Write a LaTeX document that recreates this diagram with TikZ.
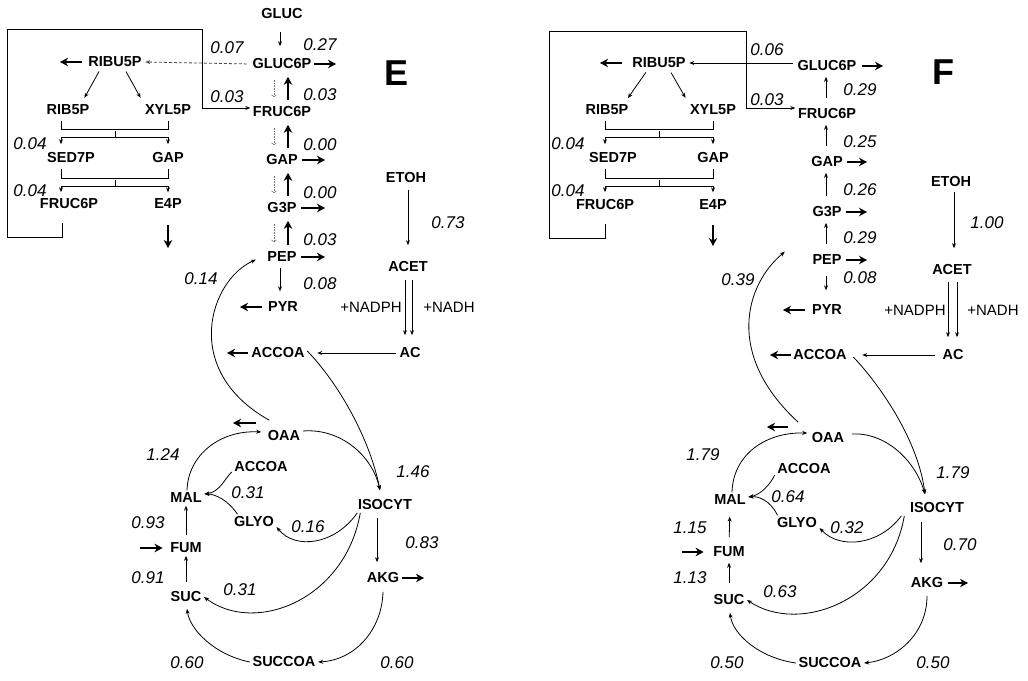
\documentclass[tikz,border=0pt]{standalone}
\usepackage{fontspec}
\setmainfont{Liberation Sans}
\newfontfamily\labfont{Liberation Sans}
\usetikzlibrary{arrows.meta}
\tikzset{
 lab/.style={font=\labfont\bfseries\fontsize{14.5}{16}\selectfont, inner sep=2.5pt},
 num/.style={font=\itshape\fontsize{17}{19}\selectfont, inner sep=0pt},
 cof/.style={font=\fontsize{15}{17}\selectfont, inner sep=0pt},
 panel/.style={font=\bfseries\fontsize{36}{40}\selectfont, inner sep=0pt},
 thinar/.style={line width=0.8pt, -{Stealth[length=5pt,width=4pt]}},
 bigar/.style={line width=2.4pt, -{Stealth[length=8pt,width=8.5pt,inset=2.5pt]}},
 boxline/.style={line width=1pt},
 boxar/.style={line width=1pt, -{Stealth[length=5pt,width=4pt]}},
 dotar/.style={line width=0.6pt, densely dotted, black!50, -{Straight Barb[length=2pt,width=5pt]}},
 dashar/.style={line width=0.8pt, densely dashed, black!70, -{Stealth[length=5pt,width=4pt]}},
 Eup/.style={bigar, shorten <=4pt, shorten >=5pt},
 Edn/.style={dotar, shorten <=8pt, shorten >=7pt},
 Fup/.style={thinar, shorten <=8pt, shorten >=3pt},
}
\begin{document}
\begin{tikzpicture}[x=1pt,y=-1pt]
\useasboundingbox (0,0) rectangle (1028,680);
\fill[white] (0,0) rectangle (1028,680);

% ================= Panel E =================
\node[panel] (Elab) at (397,73) {E};
\node[lab] (gluc) at (282,14) {GLUC};
\node[lab] (gluc6p) at (282,64) {GLUC6P};
\node[lab] (fruc6p) at (282,112) {FRUC6P};
\node[lab] (gap) at (282,160) {GAP};
\node[lab] (g3p) at (282,208) {G3P};
\node[lab] (pep) at (282,257) {PEP};
\node[lab] (pyr) at (283,307) {PYR};
\node[lab] (etoh) at (406,178) {ETOH};
\node[lab] (acet) at (408,267) {ACET};
\node[lab] (ac) at (410,353) {AC};
\node[lab] (accoa) at (278,353) {ACCOA};
\node[lab] (oaa) at (284,436) {OAA};
\node[lab] (isocyt) at (385,505) {ISOCYT};
\node[lab] (akg) at (383,578) {AKG};
\node[lab] (succoa) at (284,662) {SUCCOA};
\node[lab] (suc) at (186,597) {SUC};
\node[lab] (fum) at (186,548) {FUM};
\node[lab] (mal) at (186,498) {MAL};
\node[lab] (accoab) at (261,467) {ACCOA};
\node[lab] (glyo) at (254,522) {GLYO};
\node[lab] (ribu5p) at (115,62) {RIBU5P};
\node[lab] (rib5p) at (68,110) {RIB5P};
\node[lab] (xyl5p) at (168,110) {XYL5P};
\node[lab] (sed7p) at (71,158) {SED7P};
\node[lab] (gapl) at (168,158) {GAP};
\node[lab] (fruc6pl) at (69,204) {FRUC6P};
\node[lab] (e4p) at (168,204) {E4P};
\node[cof] (nadphE) at (371,307) {+NADPH};
\node[cof] (nadhE) at (449,307) {+NADH};

\node[num] (nE1) at (320,45) {0.27};
\node[num] (nE2) at (227,48) {0.07};
\node[num] (nE3) at (227,97) {0.03};
\node[num] (nE4) at (320,95) {0.03};
\node[num] (nE5) at (320,145) {0.00};
\node[num] (nE6) at (320,193) {0.00};
\node[num] (nE7) at (320,240) {0.03};
\node[num] (nE8) at (320,284) {0.08};
\node[num] (nE9) at (448,223) {0.73};
\node[num] (nE10) at (201,279) {0.14};
\node[num] (nE11) at (163,455) {1.24};
\node[num] (nE12) at (248,493) {0.31};
\node[num] (nE13) at (148,523) {0.93};
\node[num] (nE14) at (308,527) {0.16};
\node[num] (nE15) at (413,472) {1.46};
\node[num] (nE16) at (422,543) {0.83};
\node[num] (nE17) at (148,578) {0.91};
\node[num] (nE18) at (240,590) {0.31};
\node[num] (nE19) at (187,663) {0.60};
\node[num] (nE20) at (397,663) {0.60};
\node[num] (nE21) at (30,144) {0.04};
\node[num] (nE22) at (30,191) {0.04};

% glycolysis column E
\draw[thinar, shorten <=10pt, shorten >=10pt] ([xshift=-2pt]gluc.south) -- ([xshift=-2pt]gluc6p.north);
\coordinate (Eg6pout) at (336,64);
\draw[bigar] (gluc6p.east) -- (Eg6pout);
\draw[Eup] ([xshift=6pt]fruc6p.north) -- ([xshift=6pt]gluc6p.south);
\draw[Eup] ([xshift=6pt]gap.north) -- ([xshift=6pt]fruc6p.south);
\draw[Eup] ([xshift=6pt]g3p.north) -- ([xshift=6pt]gap.south);
\draw[Eup] ([xshift=6pt]pep.north) -- ([xshift=6pt]g3p.south);
\draw[Edn] ([xshift=-8pt]gluc6p.south) -- ([xshift=-8pt]fruc6p.north);
\draw[Edn] ([xshift=-8pt]fruc6p.south) -- ([xshift=-8pt]gap.north);
\draw[Edn] ([xshift=-8pt]gap.south) -- ([xshift=-8pt]g3p.north);
\draw[Edn] ([xshift=-8pt]g3p.south) -- ([xshift=-8pt]pep.north);
\coordinate (Egapout) at (325,160);
\coordinate (Eg3pout) at (325,208);
\coordinate (Epepout) at (325,257);
\draw[bigar, shorten <=2pt] (gap.east) -- (Egapout);
\draw[bigar, shorten <=2pt] (g3p.east) -- (Eg3pout);
\draw[bigar, shorten <=2pt] (pep.east) -- (Epepout);
\draw[thinar, shorten <=3pt, shorten >=8pt] ([xshift=-2pt]pep.south) -- ([xshift=-3pt]pyr.north);
\coordinate (Epyrout) at (240,307);
\draw[bigar, shorten <=3pt] (pyr.west) -- (Epyrout);
\draw[thinar, shorten <=4pt, shorten >=14pt] ([xshift=2pt]etoh.south) -- (acet.north);
\draw[thinar, shorten <=5pt, shorten >=10pt] ([xshift=-3pt]acet.south) -- ([xshift=-5pt]ac.north);
\draw[thinar, shorten <=5pt, shorten >=10pt] ([xshift=4pt]acet.south) -- ([xshift=2pt]ac.north);
\draw[thinar, shorten <=1pt, shorten >=10pt] (ac.west) -- (accoa.east);
\coordinate (Eaccoaout) at (227,353);
\draw[bigar, shorten <=1pt] (accoa.west) -- (Eaccoaout);
\coordinate (Eoaaout) at (233,423);
\draw[bigar, shorten <=9pt] ([yshift=13pt]oaa.west) -- (Eoaaout);

% TCA E
\draw[thinar] ([shift={(4pt,8pt)}]oaa.north west) .. controls (180,370) and (210,280) .. ([shift={(-9pt,5pt)}]pep.south west);
\draw[thinar] ([yshift=2pt]accoa.east) .. controls (340,385) and (370,440) .. ([shift={(-5pt,7pt)}]isocyt.north);
\draw[thinar] ([yshift=5pt]oaa.east) .. controls (340,428) and (372,455) .. ([shift={(-5pt,7pt)}]isocyt.north);
\draw[thinar, shorten <=5pt, shorten >=8pt] ([xshift=-8pt]isocyt.south) -- ([xshift=-6pt]akg.north);
\coordinate (Eakgout) at (424,578);
\draw[bigar] (akg.east) -- (Eakgout);
\draw[thinar] ([yshift=-6pt]akg.south) .. controls (382,630) and (355,660) .. (succoa.east);
\draw[thinar] (succoa.west) .. controls (215,655) and (190,630) .. ([xshift=1pt,yshift=-4pt]suc.south);
\draw[thinar, shorten <=7pt] (suc.north) -- (fum.south);
\coordinate (Efumin) at (140,548);
\draw[bigar, shorten >=5pt] (Efumin) -- (fum.west);
\draw[thinar, shorten <=5pt] (fum.north) -- (mal.south);
\draw[thinar] ([xshift=1pt]mal.north) .. controls (188,455) and (220,430) .. ([shift={(-4pt,4pt)}]oaa.west);
\draw[thinar] ([yshift=-5pt]accoab.west) .. controls (225,478) and (220,492) .. ([yshift=4pt]mal.east);
\draw[thinar] ([xshift=6pt]glyo.north west) .. controls (228,500) and (215,494) .. ([yshift=4pt]mal.east);
\draw[thinar] ([xshift=2pt]isocyt.south west) .. controls (335,545) and (295,550) .. ([yshift=-5pt]glyo.east);
\draw[thinar] ([xshift=5pt]isocyt.south west) .. controls (345,600) and (255,635) .. (suc.east);

% pentose E
\coordinate (Eribout) at (60,62);
\draw[bigar, shorten <=4pt] (ribu5p.west) -- (Eribout);
\draw[dashar, shorten <=3pt, shorten >=1pt] (gluc6p.west) -- (ribu5p.east);
\draw[thinar, shorten <=2pt, shorten >=5pt] ([xshift=-15pt]ribu5p.south) -- ([xshift=14pt]rib5p.north);
\draw[thinar, shorten <=2pt, shorten >=5pt] ([xshift=10pt]ribu5p.south) -- ([xshift=-25pt]xyl5p.north);
\draw[boxline] ([xshift=-7pt,yshift=-3pt]rib5p.south) -- ++(0,9) -| ([yshift=-3pt]xyl5p.south);
\coordinate (Eb1) at (115,131);
\coordinate (Eb1l) at (115,137);
\draw[boxline] (Eb1) -- (Eb1l);
\draw[thinar] (Eb1l) -| ([xshift=-10pt,yshift=6pt]sed7p.north);
\draw[thinar] (Eb1l) -| ([yshift=6pt]gapl.north);
\draw[boxline] ([xshift=-10pt,yshift=-3pt]sed7p.south) -- ++(0,10) -| ([yshift=-3pt]gapl.south);
\coordinate (Eb2) at (115,180);
\coordinate (Eb2l) at (115,186);
\draw[boxline] (Eb2) -- (Eb2l);
\draw[thinar] (Eb2l) -| ([xshift=-8pt,yshift=4pt]fruc6pl.north);
\draw[thinar] (Eb2l) -| ([yshift=4pt]e4p.north);
\draw[boxar] ([xshift=-7pt,yshift=-11pt]fruc6pl.south) -- (62,237) -- (7,237) -- (7,29) -- (202,29) -- (202,108) -- ([yshift=4pt]fruc6p.west);
\coordinate (Ee4pout) at (168,248);
\draw[bigar, shorten <=13pt] (e4p.south) -- (Ee4pout);

% ================= Panel F =================
\node[panel] (Flab) at (943,72) {F};
\node[lab] (Fgluc6p) at (827,66) {GLUC6P};
\node[lab] (Ffruc6p) at (827,114) {FRUC6P};
\node[lab] (Fgap) at (827,162) {GAP};
\node[lab] (Fg3p) at (827,212) {G3P};
\node[lab] (Fpep) at (827,260) {PEP};
\node[lab] (Fpyr) at (827,310) {PYR};
\node[lab] (Fetoh) at (951,182) {ETOH};
\node[lab] (Facet) at (952,270) {ACET};
\node[lab] (Fac) at (953,355) {AC};
\node[lab] (Faccoa) at (820,355) {ACCOA};
\node[lab] (Foaa) at (828,438) {OAA};
\node[lab] (Fisocyt) at (937,508) {ISOCYT};
\node[lab] (Fakg) at (927,583) {AKG};
\node[lab] (Fsuccoa) at (830,663) {SUCCOA};
\node[lab] (Fsuc) at (729,600) {SUC};
\node[lab] (Ffum) at (729,552) {FUM};
\node[lab] (Fmal) at (730,500) {MAL};
\node[lab] (Faccoab) at (804,469) {ACCOA};
\node[lab] (Fglyo) at (797,523) {GLYO};
\node[lab] (Fribu5p) at (659,63) {RIBU5P};
\node[lab] (Frib5p) at (607,110) {RIB5P};
\node[lab] (Fxyl5p) at (713,110) {XYL5P};
\node[lab] (Fsed7p) at (613,158) {SED7P};
\node[lab] (Fgapl) at (713,158) {GAP};
\node[lab] (Ffruc6pl) at (605,205) {FRUC6P};
\node[lab] (Fe4p) at (713,205) {E4P};
\node[cof] (nadphF) at (915,310) {+NADPH};
\node[cof] (nadhF) at (993,310) {+NADH};

\node[num] (nF1) at (767,50) {0.06};
\node[num] (nF2) at (767,100) {0.03};
\node[num] (nF3) at (860,90) {0.29};
\node[num] (nF4) at (860,142) {0.25};
\node[num] (nF5) at (860,190) {0.26};
\node[num] (nF6) at (860,238) {0.29};
\node[num] (nF7) at (860,278) {0.08};
\node[num] (nF8) at (987,223) {1.00};
\node[num] (nF9) at (738,280) {0.39};
\node[num] (nF10) at (703,455) {1.79};
\node[num] (nF11) at (788,497) {0.64};
\node[num] (nF12) at (690,528) {1.15};
\node[num] (nF13) at (847,528) {0.32};
\node[num] (nF14) at (953,473) {1.79};
\node[num] (nF15) at (960,545) {0.70};
\node[num] (nF16) at (690,578) {1.13};
\node[num] (nF17) at (780,592) {0.63};
\node[num] (nF18) at (727,663) {0.50};
\node[num] (nF19) at (933,663) {0.50};
\node[num] (nF20) at (568,144) {0.04};
\node[num] (nF21) at (568,191) {0.04};

% glycolysis column F
\coordinate (Fg6pout) at (883,66);
\draw[bigar, shorten <=3pt] (Fgluc6p.east) -- (Fg6pout);
\draw[Fup] ([xshift=-1pt]Ffruc6p.north) -- ([xshift=-1pt]Fgluc6p.south);
\draw[Fup] ([xshift=-1pt]Fgap.north) -- ([xshift=-1pt]Ffruc6p.south);
\draw[Fup] ([xshift=-1pt]Fg3p.north) -- ([xshift=-1pt]Fgap.south);
\draw[Fup] ([xshift=-1pt]Fpep.north) -- ([xshift=-1pt]Fg3p.south);
\coordinate (Fgapout) at (867,162);
\coordinate (Fg3pout) at (867,212);
\coordinate (Fpepout) at (867,260);
\draw[bigar, shorten <=2pt] (Fgap.east) -- (Fgapout);
\draw[bigar, shorten <=2pt] (Fg3p.east) -- (Fg3pout);
\draw[bigar, shorten <=2pt] (Fpep.east) -- (Fpepout);
\draw[thinar, shorten <=8pt, shorten >=12pt] ([xshift=-1pt]Fpep.south) -- ([xshift=-1pt]Fpyr.north);
\coordinate (Fpyrout) at (783,310);
\draw[bigar, shorten <=4pt] (Fpyr.west) -- (Fpyrout);
\draw[thinar, shorten <=2pt, shorten >=14pt] ([xshift=3pt]Fetoh.south) -- ([xshift=2pt]Facet.north);
\draw[thinar, shorten <=4pt, shorten >=10pt] ([xshift=-4pt]Facet.south) -- ([xshift=-5pt]Fac.north);
\draw[thinar, shorten <=4pt, shorten >=10pt] ([xshift=5pt]Facet.south) -- ([xshift=4pt]Fac.north);
\draw[thinar, shorten <=5pt, shorten >=13pt] (Fac.west) -- (Faccoa.east);
\coordinate (Faccoaout) at (770,355);
\draw[bigar] (Faccoa.west) -- (Faccoaout);
\coordinate (Foaaout) at (767,427);
\draw[bigar, shorten <=21pt] ([yshift=11pt]Foaa.west) -- (Foaaout);

% TCA F
\draw[thinar] ([shift={(-11pt,8pt)}]Foaa.north west) .. controls (725,355) and (745,285) .. ([shift={(-25pt,16pt)}]Fpep.south west);
\draw[thinar] ([shift={(4pt,-2pt)}]Faccoa.east) .. controls (880,385) and (918,440) .. ([shift={(-12pt,6pt)}]Fisocyt.north);
\draw[thinar] ([shift={(5pt,4pt)}]Foaa.east) .. controls (885,432) and (915,460) .. ([shift={(-12pt,6pt)}]Fisocyt.north);
\draw[thinar, shorten <=6pt, shorten >=12pt] ([xshift=-16pt]Fisocyt.south) -- ([xshift=-6pt]Fakg.north);
\coordinate (Fakgout) at (968,583);
\draw[bigar, shorten <=2pt] (Fakg.east) -- (Fakgout);
\draw[thinar] ([yshift=-5pt]Fakg.south) .. controls (927,635) and (895,660) .. (Fsuccoa.east);
\draw[thinar] (Fsuccoa.west) .. controls (760,658) and (733,635) .. ([xshift=1pt,yshift=-5pt]Fsuc.south);
\draw[thinar, shorten <=9pt, shorten >=3pt] (Fsuc.north) -- (Ffum.south);
\coordinate (Ffumin) at (682,552);
\draw[bigar, shorten >=7pt] (Ffumin) -- (Ffum.west);
\draw[thinar, shorten <=7pt, shorten >=9pt] (Ffum.north) -- (Fmal.south);
\draw[thinar] ([xshift=2pt]Fmal.north) .. controls (733,455) and (765,432) .. ([shift={(-2pt,5pt)}]Foaa.west);
\draw[thinar] ([yshift=-6pt]Faccoab.west) .. controls (770,485) and (760,495) .. ([yshift=3pt]Fmal.east);
\draw[thinar] ([xshift=3pt]Fglyo.north west) .. controls (770,500) and (758,496) .. ([yshift=3pt]Fmal.east);
\draw[thinar] ([xshift=-6pt]Fisocyt.south west) .. controls (880,545) and (840,550) .. ([yshift=-5pt]Fglyo.east);
\draw[thinar] ([xshift=-3pt]Fisocyt.south west) .. controls (890,600) and (800,635) .. (Fsuc.east);

% pentose F
\coordinate (Fribout) at (600,63);
\draw[bigar, shorten <=8pt] (Fribu5p.west) -- (Fribout);
\draw[thinar, shorten <=2pt, shorten >=1pt] ([yshift=3pt]Fgluc6p.west) -- (Fribu5p.east);
\draw[thinar, shorten <=2pt, shorten >=5pt] ([xshift=-12pt]Fribu5p.south) -- ([xshift=18pt]Frib5p.north);
\draw[thinar, shorten <=2pt, shorten >=5pt] ([xshift=11pt]Fribu5p.south) -- ([xshift=-25pt]Fxyl5p.north);
\draw[boxline] ([xshift=-2pt,yshift=-3pt]Frib5p.south) -- ++(0,9) -| ([yshift=-3pt]Fxyl5p.south);
\coordinate (Fb1) at (659,131);
\coordinate (Fb1l) at (659,137);
\draw[boxline] (Fb1) -- (Fb1l);
\draw[thinar] (Fb1l) -| ([xshift=-8pt,yshift=6pt]Fsed7p.north);
\draw[thinar] (Fb1l) -| ([yshift=6pt]Fgapl.north);
\draw[boxline] ([xshift=-8pt,yshift=-3pt]Fsed7p.south) -- ++(0,10) -| ([yshift=-3pt]Fgapl.south);
\coordinate (Fb2) at (659,180);
\coordinate (Fb2l) at (659,186);
\draw[boxline] (Fb2) -- (Fb2l);
\draw[thinar] (Fb2l) -| ([yshift=5pt]Ffruc6pl.north);
\draw[thinar] (Fb2l) -| ([yshift=5pt]Fe4p.north);
\draw[boxar] ([yshift=-11pt]Ffruc6pl.south) -- (605,238) -- (549,238) -- (549,31) -- (746,31) -- (746,108) -- ([yshift=6pt]Ffruc6p.west);
\coordinate (Fe4pout) at (713,246);
\draw[bigar, shorten <=12pt] (Fe4p.south) -- (Fe4pout);
\end{tikzpicture}
\end{document}
